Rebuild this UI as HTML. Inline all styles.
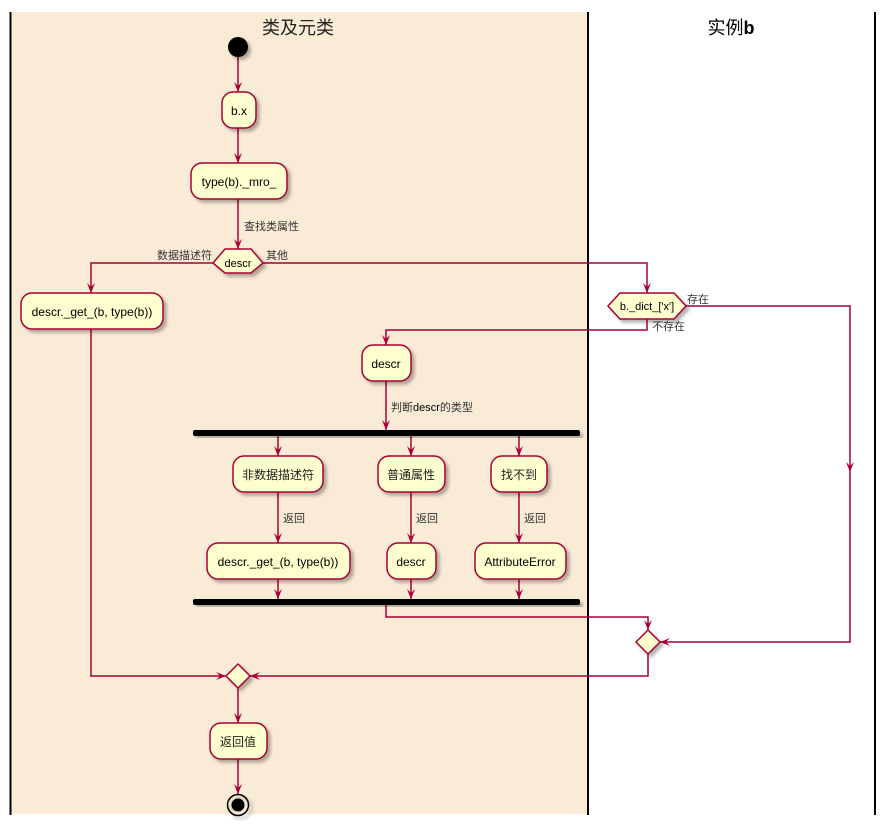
<!DOCTYPE html>
<html><head><meta charset="utf-8"><style>
html,body{margin:0;padding:0;background:#fff;}
svg{display:block;}
text{font-family:"Liberation Sans","Noto Sans CJK SC",sans-serif;}
</style></head><body>
<svg width="885" height="825" viewBox="0 0 885 825" xmlns="http://www.w3.org/2000/svg">
<defs>
<filter id="sh" x="-20%" y="-20%" width="150%" height="150%"><feDropShadow dx="3" dy="3" stdDeviation="1.5" flood-color="#000" flood-opacity="0.3"/></filter>
</defs>
<rect x="10" y="12" width="578" height="802" fill="#FAEBD7"/>
<line x1="10.5" y1="12" x2="10.5" y2="815" stroke="#000" stroke-width="2"/>
<line x1="588" y1="12" x2="588" y2="815" stroke="#000" stroke-width="2"/>
<line x1="875" y1="12" x2="875" y2="815" stroke="#000" stroke-width="2"/>
<text x="298" y="34" font-size="18" text-anchor="middle" fill="#222">类及元类</text>
<text x="731" y="34" font-size="18" text-anchor="middle" fill="#000">实例<tspan font-weight="bold">b</tspan></text>

<g stroke="#A80036" stroke-width="1.5" fill="none">
<path d="M238 57V92"/>
<path d="M238 128V163"/>
<path d="M238 199V249"/>
<path d="M213 263H91V293"/>
<path d="M263 263H647V293"/>
<path d="M686 306H850V470"/>
<path d="M850 470V642H660"/>
<path d="M647 319V330H386V345"/>
<path d="M386 381V430"/>
<path d="M278 436V456"/><path d="M411 436V456"/><path d="M519 436V456"/>
<path d="M278 492V543"/><path d="M411 492V543"/><path d="M519 492V543"/>
<path d="M278 579V599"/><path d="M411 579V599"/><path d="M519 579V599"/>
<path d="M386 605V617H648V630"/>
<path d="M648 654V676H250"/>
<path d="M91 329V676H226"/>
<path d="M238 688V723"/>
<path d="M238 759V794"/>
</g>
<g fill="#A80036">
<path d="M238 92l-4-10 4 4 4-4z"/>
<path d="M238 163l-4-10 4 4 4-4z"/>
<path d="M238 249l-4-10 4 4 4-4z"/>
<path d="M91 293l-4-10 4 4 4-4z"/>
<path d="M647 293l-4-10 4 4 4-4z"/>
<path d="M850 472l-4-10 4 4 4-4z"/>
<path d="M660 642l10-4-4 4 4 4z"/>
<path d="M386 345l-4-10 4 4 4-4z"/>
<path d="M386 430l-4-10 4 4 4-4z"/>
<path d="M278 456l-4-10 4 4 4-4z"/><path d="M411 456l-4-10 4 4 4-4z"/><path d="M519 456l-4-10 4 4 4-4z"/>
<path d="M278 543l-4-10 4 4 4-4z"/><path d="M411 543l-4-10 4 4 4-4z"/><path d="M519 543l-4-10 4 4 4-4z"/>
<path d="M278 599l-4-10 4 4 4-4z"/><path d="M411 599l-4-10 4 4 4-4z"/><path d="M519 599l-4-10 4 4 4-4z"/>
<path d="M648 630l-4-10 4 4 4-4z"/>
<path d="M250 676l10-4-4 4 4 4z"/>
<path d="M226 676l-10-4 4 4-4 4z"/>
<path d="M238 723l-4-10 4 4 4-4z"/>
<path d="M238 794l-4-10 4 4 4-4z"/>
</g>

<circle cx="238" cy="47" r="10" fill="#000" filter="url(#sh)"/>

<g fill="#FEFECE" stroke="#A80036" stroke-width="1.5" filter="url(#sh)">
<rect x="222" y="92" width="34" height="36" rx="11"/>
<rect x="191" y="163" width="96" height="36" rx="11"/>
<polygon points="213,263 225,249 251,249 263,263 251,273 225,273"/>
<rect x="21" y="293" width="142" height="36" rx="11"/>
<polygon points="608,306 620,293 674,293 686,306 674,319 620,319"/>
<rect x="362" y="345" width="49" height="36" rx="11"/>
<rect x="233" y="456" width="90" height="36" rx="11"/>
<rect x="378" y="456" width="67" height="36" rx="11"/>
<rect x="491" y="456" width="56" height="36" rx="11"/>
<rect x="207" y="543" width="143" height="36" rx="11"/>
<rect x="387" y="543" width="49" height="36" rx="11"/>
<rect x="475" y="543" width="91" height="36" rx="11"/>
<polygon points="648,630 660,642 648,654 636,642"/>
<polygon points="238,664 250,676 238,688 226,676"/>
<rect x="210" y="723" width="57" height="36" rx="11"/>
</g>
<g fill="#000" stroke="none">
<rect x="193" y="430" width="387" height="6" rx="2" filter="url(#sh)"/>
<rect x="193" y="599" width="387" height="6" rx="2" filter="url(#sh)"/>
</g>
<circle cx="238" cy="805" r="10.5" fill="none" stroke="#000" stroke-width="1.5" filter="url(#sh)"/>
<circle cx="238" cy="805" r="6.5" fill="#000"/>

<g font-size="12" fill="#000" text-anchor="middle">
<text x="239" y="115">b.x</text>
<text x="239" y="186">type(b)._mro_</text>
<text x="238" y="267" font-size="11">descr</text>
<text x="92" y="316">descr._get_(b, type(b))</text>
<text x="647" y="310" font-size="11">b._dict_['x']</text>
<text x="386" y="368">descr</text>
<text x="278" y="479" fill="#222">非数据描述符</text>
<text x="411" y="479" fill="#222">普通属性</text>
<text x="519" y="479" fill="#222">找不到</text>
<text x="278" y="566">descr._get_(b, type(b))</text>
<text x="411" y="566">descr</text>
<text x="520" y="566">AttributeError</text>
<text x="238" y="746" fill="#222">返回值</text>
</g>
<g font-size="11" fill="#333">
<text x="244" y="230">查找类属性</text>
<text x="212" y="259" text-anchor="end">数据描述符</text>
<text x="266" y="259">其他</text>
<text x="687" y="303">存在</text>
<text x="652" y="330">不存在</text>
<text x="391" y="411">判断<tspan fill="#000">descr</tspan>的类型</text>
<text x="283" y="522">返回</text>
<text x="416" y="522">返回</text>
<text x="524" y="522">返回</text>
</g>
</svg>
</body></html>
